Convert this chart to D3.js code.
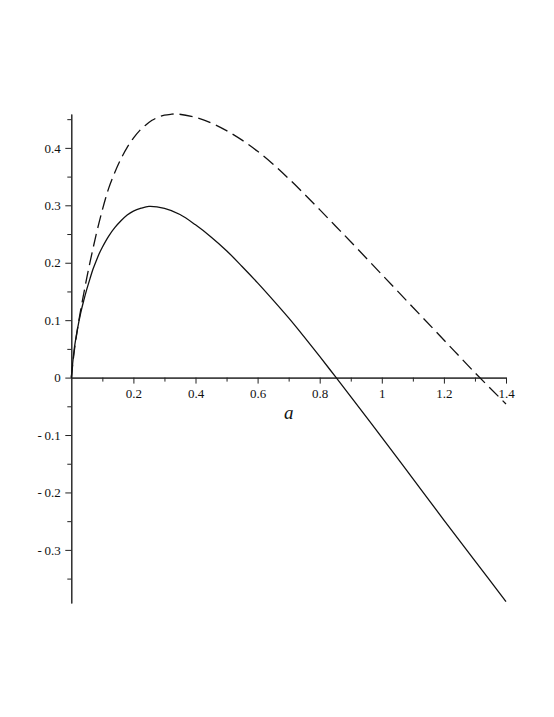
<!DOCTYPE html>
<html>
	<head>
		<meta http-equiv="Content-Type" content="text/html;charset=utf-8"/>
		<title>Two curves in a</title>
		<script type="text/javascript" src="https://cdn.jsdelivr.net/npm/d3@7"></script>
		<style type="text/css">

			body {
				margin: 0;
				background: #fff;
			}

			.curve {
				fill: none;
				stroke: #111;
				stroke-width: 1.3;
			}

			.dashed {
				stroke-dasharray: 13,6;
			}

			.axis path,
			.axis line {
				stroke: #222;
				stroke-width: 1;
			}

			.axis text {
				fill: #111;
				font-family: "Liberation Serif", "Times New Roman", serif;
				font-size: 13px;
			}

		</style>
	</head>
	<body>
		<script type="text/javascript">

			//Points: solid curve
			var solidA = [0, 0.01, 0.02, 0.03, 0.04, 0.05, 0.06, 0.07, 0.08, 0.09, 0.1, 0.12, 0.14, 0.16, 0.18,
				0.2, 0.225, 0.25, 0.3, 0.35, 0.4, 0.45, 0.5, 0.55, 0.6, 0.65, 0.7, 0.75, 0.8, 0.85,
				0.9, 1.0, 1.1, 1.2, 1.3, 1.4];
			var solidV = [0, 0.052, 0.085, 0.112, 0.134, 0.154, 0.172, 0.189, 0.203, 0.216, 0.227, 0.246, 0.261, 0.273, 0.283,
				0.290, 0.295, 0.298, 0.2945, 0.284, 0.266, 0.245, 0.221, 0.1935, 0.165, 0.135, 0.104, 0.071, 0.037, 0.002,
				-0.033, -0.104, -0.176, -0.248, -0.319, -0.390];

			//Points: dashed curve
			var dashedA = [0, 0.01, 0.02, 0.03, 0.04, 0.05, 0.06, 0.07, 0.08, 0.09, 0.1, 0.11, 0.12, 0.14, 0.16,
				0.18, 0.2, 0.22, 0.24, 0.26, 0.28, 0.3, 0.32, 0.34, 0.4, 0.45, 0.5, 0.55, 0.6, 0.65,
				0.7, 0.75, 0.8, 0.85, 0.9, 1.0, 1.1, 1.2, 1.3, 1.4];
			var dashedV = [0, 0.048, 0.085, 0.117, 0.146, 0.174, 0.200, 0.225, 0.249, 0.271, 0.292, 0.3115, 0.329, 0.357, 0.381,
				0.401, 0.417, 0.430, 0.440, 0.448, 0.4535, 0.457, 0.4585, 0.459, 0.453, 0.4435, 0.430, 0.4135, 0.394, 0.3715,
				0.3465, 0.320, 0.2925, 0.2645, 0.2365, 0.1795, 0.1225, 0.0655, 0.0085, -0.046];

			//Tick values and their labels
			var xTicks = [0.2, 0.4, 0.6, 0.8, 1, 1.2, 1.4];
			var xTickLabels = ["0.2", "0.4", "0.6", "0.8", "1", "1.2", "1.4"];
			var xMinorTicks = [0.1, 0.3, 0.5, 0.7, 0.9, 1.1, 1.3];
			var yTicks = [-0.3, -0.2, -0.1, 0, 0.1, 0.2, 0.3, 0.4];
			var yTickLabels = ["-\u20090.3", "-\u20090.2", "-\u20090.1", "0", "0.1", "0.2", "0.3", "0.4"];
			var yMinorTicks = [-0.35, -0.25, -0.15, -0.05, 0.05, 0.15, 0.25, 0.35, 0.45];

			var w = 554,
				h = 717;

			var svg = d3.select("body").append("svg")
						.attr("width", w)
						.attr("height", h);

			svg.append("rect")
				.attr("width", w)
				.attr("height", h)
				.attr("fill", "#fff");

			//Scales, set so the axes land where they sit in the picture
			var x = d3.scaleLinear().domain([0, 1.4]).range([71.3, 506]);
			var y = d3.scaleLinear().domain([-0.3925, 0.459]).range([603, 114]);

			//Minor ticks first, then the labelled axes on top
			svg.append("g")
				.attr("class", "axis")
				.attr("transform", "translate(0," + y(0) + ")")
				.call(d3.axisBottom(x).tickValues(xMinorTicks).tickSize(4).tickSizeOuter(0).tickFormat(""));

			svg.append("g")
				.attr("class", "axis")
				.attr("transform", "translate(" + x(0) + ",0)")
				.call(d3.axisLeft(y).tickValues(yMinorTicks).tickSize(4).tickSizeOuter(0).tickFormat(""));

			svg.append("g")
				.attr("class", "axis")
				.attr("transform", "translate(0," + y(0) + ")")
				.call(d3.axisBottom(x)
					.tickValues(xTicks)
					.tickSize(6)
					.tickSizeOuter(0)
					.tickPadding(5)
					.tickFormat(function(d, i) { return xTickLabels[i]; }));

			svg.append("g")
				.attr("class", "axis")
				.attr("transform", "translate(" + x(0) + ",0)")
				.call(d3.axisLeft(y)
					.tickValues(yTicks)
					.tickSize(6)
					.tickSizeOuter(0)
					.tickPadding(4.5)
					.tickFormat(function(d, i) { return yTickLabels[i]; }));

			//Axis title under the x axis
			svg.append("text")
				.attr("x", x(0.7))
				.attr("y", 418.5)
				.attr("text-anchor", "middle")
				.attr("font-family", "'Liberation Serif', 'Times New Roman', serif")
				.attr("font-style", "italic")
				.attr("font-size", 19)
				.attr("fill", "#111")
				.text("a");

			var line = d3.line()
				.x(function(d) { return x(d[0]); })
				.y(function(d) { return y(d[1]); })
				.curve(d3.curveCatmullRom.alpha(0.5));

			svg.append("path")
				.attr("class", "curve dashed")
				.attr("d", line(d3.zip(dashedA, dashedV)));

			svg.append("path")
				.attr("class", "curve")
				.attr("d", line(d3.zip(solidA, solidV)));

		</script>
	</body>
</html>
